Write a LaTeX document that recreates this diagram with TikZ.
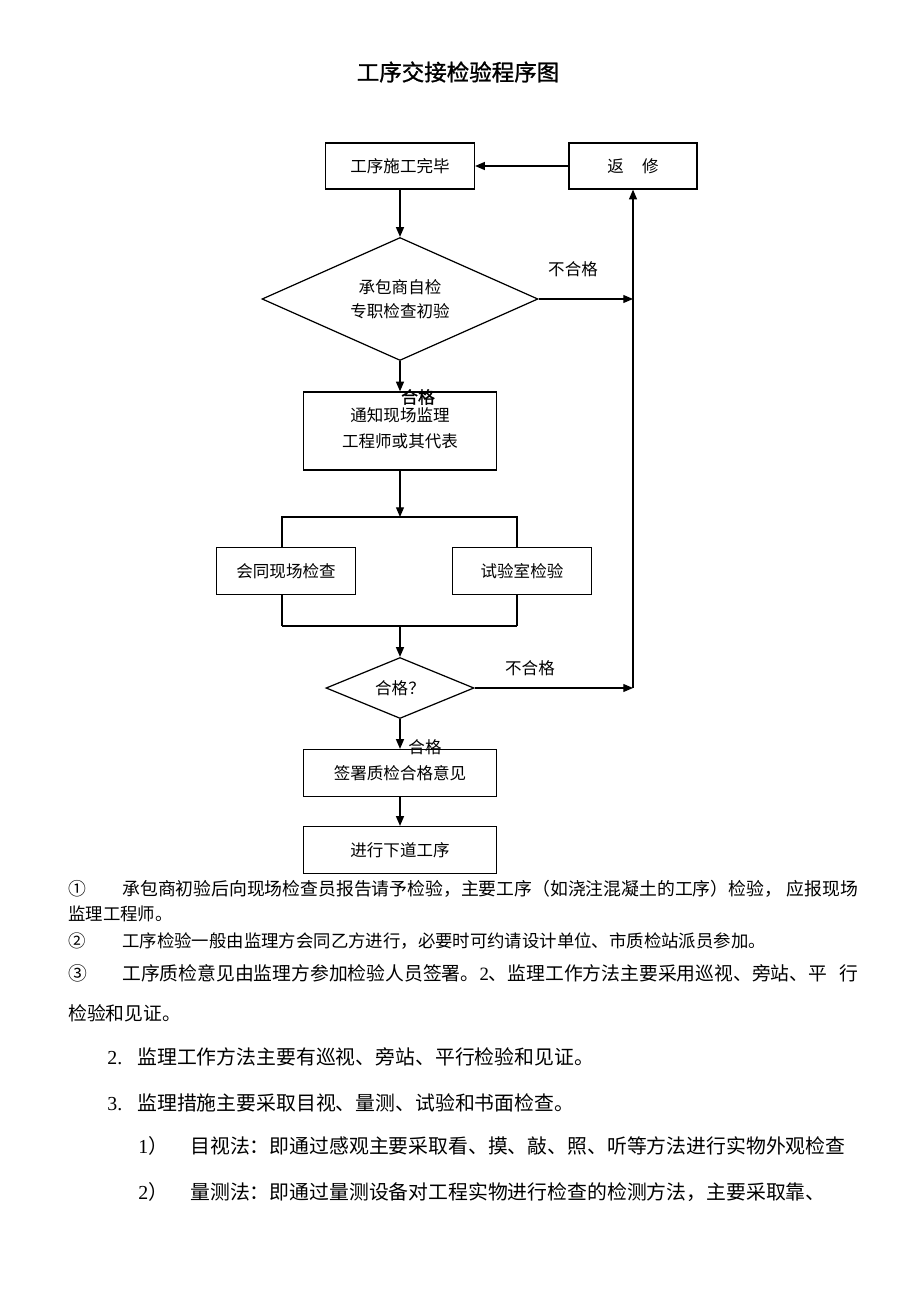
\documentclass[tikz,border=0pt]{standalone}
\usepackage{fontspec}
\setmainfont{Liberation Serif}
\newfontfamily\cjk{Noto Sans CJK SC}
\newfontfamily\cjkheavy[FakeBold=1.2]{Noto Sans CJK SC}
\usetikzlibrary{arrows.meta,shapes.geometric}

\newcommand{\chartfont}{\cjk\fontsize{9.4pt}{13.6pt}\selectfont}
\newcommand{\notefont}{\cjk\fontsize{9.9pt}{12pt}\selectfont}
\newcommand{\bignotefont}{\cjk\fontsize{10.7pt}{12pt}\selectfont}
\newcommand{\listfont}{\cjk\fontsize{11.3pt}{13pt}\selectfont}

\begin{document}
\begin{tikzpicture}[x=0.02cm,y=-0.02cm,
    note/.style={anchor=west,inner sep=0pt}]
\useasboundingbox (0,0) rectangle (920,1301);

\node (title) at (458,72) {\cjkheavy\fontsize{12.8pt}{14pt}\selectfont 工序交接检验程序图};

% boxes
\begin{scope}[every node/.style={rectangle,draw,line width=0.7pt,inner sep=0pt,
              align=center,font=\chartfont}]
    \node[minimum width=2.98cm,minimum height=0.92cm] (done) at (400,166) {工序施工完毕};
    \node[minimum width=2.56cm,minimum height=0.92cm] (fix) at (633,166) {返\hspace{1.1em}修};
    \node[minimum width=3.86cm,minimum height=1.56cm] (notify) at (400,431) {\raisebox{4pt}{\shortstack{通知现场监理\\[3pt]工程师或其代表}}};
    \node[minimum width=2.78cm,minimum height=0.94cm] (joint) at (286,571) {会同现场检查};
    \node[minimum width=2.78cm,minimum height=0.94cm] (lab) at (522,571) {试验室检验};
    \node[minimum width=3.86cm,minimum height=0.94cm] (sign) at (400,773) {签署质检合格意见};
    \node[minimum width=3.86cm,minimum height=0.94cm] (next) at (400,850) {进行下道工序};
\end{scope}

% decisions
\begin{scope}[every node/.style={diamond,draw,line width=0.7pt,inner sep=0pt,
              aspect=2.3,align=center,font=\chartfont}]
    \node[minimum width=5.52cm,minimum height=2.46cm] (d1) at (400,299) {承包商自检\\专职检查初验};
    \node[minimum width=2.96cm,minimum height=1.22cm] (d2) at (400,688) {合格？};
\end{scope}

\coordinate (ret1) at (633,299);
\coordinate (ret2) at (633,688);
\coordinate (split) at (400,517);
\coordinate (splitL) at (282,517);
\coordinate (splitR) at (517,517);
\coordinate (merge) at (400,626);
\coordinate (mergeL) at (282,626);
\coordinate (mergeR) at (517,626);

% connectors
\begin{scope}[>={Triangle[length=5.5pt,width=4.5pt]},
              every edge/.style={draw,line width=0.7pt}]
    \path [->] (fix) edge (done);
    \path [->] (done) edge (d1);
    \path [->] (d1) edge (ret1);
    \path [->] (ret2) edge (fix.south);
    \path [->] (d1) edge (notify);
    \path [->] (notify) edge (split);
    \path [->] (merge) edge (d2);
    \path [->] (d2) edge (ret2);
    \path [->] (d2) edge (sign);
    \path [->] (sign) edge (next);
\end{scope}
\draw[line width=0.7pt] (splitL |- joint.north) -- (splitL) -- (splitR) -- (splitR |- lab.north);
\draw[line width=0.7pt] (splitL |- joint.south) -- (mergeL);
\draw[line width=0.7pt] (splitR |- lab.south) -- (mergeR);
\draw[line width=1.3pt] (mergeL) -- (mergeR);

\node[font=\chartfont] (fail1) at (573,269) {不合格};
\node[font=\chartfont] (fail2) at (530,668) {不合格};
\node[font=\cjkheavy\fontsize{9.6pt}{11pt}\selectfont] (pass1) at (418,397) {合格};
\node[font=\chartfont] (pass2) at (425,747) {合格};

% notes
\node[note,font=\cjk\fontsize{10.15pt}{12pt}\selectfont] (n1) at (68,889) {\makebox[1.08cm][l]{①}\makebox[14.72cm]{承包商初验后向现场检查员报告请予检验，主要工序（如浇注混凝土的工序）检验，\hfill 应报现场}};
\node[note,font=\notefont] (n1b) at (68,914) {监理工程师。};
\node[note,font=\notefont] (n2) at (68,941) {\makebox[1.08cm][l]{②}工序检验一般由监理方会同乙方进行，必要时可约请设计单位、市质检站派员参加。};
\node[note,font=\bignotefont] (n3) at (68,973) {\makebox[1.08cm][l]{③}\makebox[14.72cm]{工序质检意见由监理方参加检验人员签署。{\rmfamily 2}、监理工作方法主要采用巡视、旁站、平\hfill 行}};
\node[note,font=\bignotefont] (n3b) at (68,1013) {检验和见证。};

\node[note,font=\listfont] (m2) at (107,1057) {\makebox[0.6cm][l]{\rmfamily 2.}监理工作方法主要有巡视、旁站、平行检验和见证。};
\node[note,font=\listfont] (m3) at (107,1103) {\makebox[0.6cm][l]{\rmfamily 3.}监理措施主要采取目视、量测、试验和书面检查。};
\node[note,font=\listfont] (s1) at (138,1146) {\makebox[1.04cm][l]{{\rmfamily 1}）}目视法：即通过感观主要采取看、摸、敲、照、听等方法进行实物外观检查};
\node[note,font=\listfont] (s2) at (138,1192) {\makebox[1.04cm][l]{{\rmfamily 2}）}量测法：即通过量测设备对工程实物进行检查的检测方法，主要采取靠、};
\end{tikzpicture}
\end{document}
